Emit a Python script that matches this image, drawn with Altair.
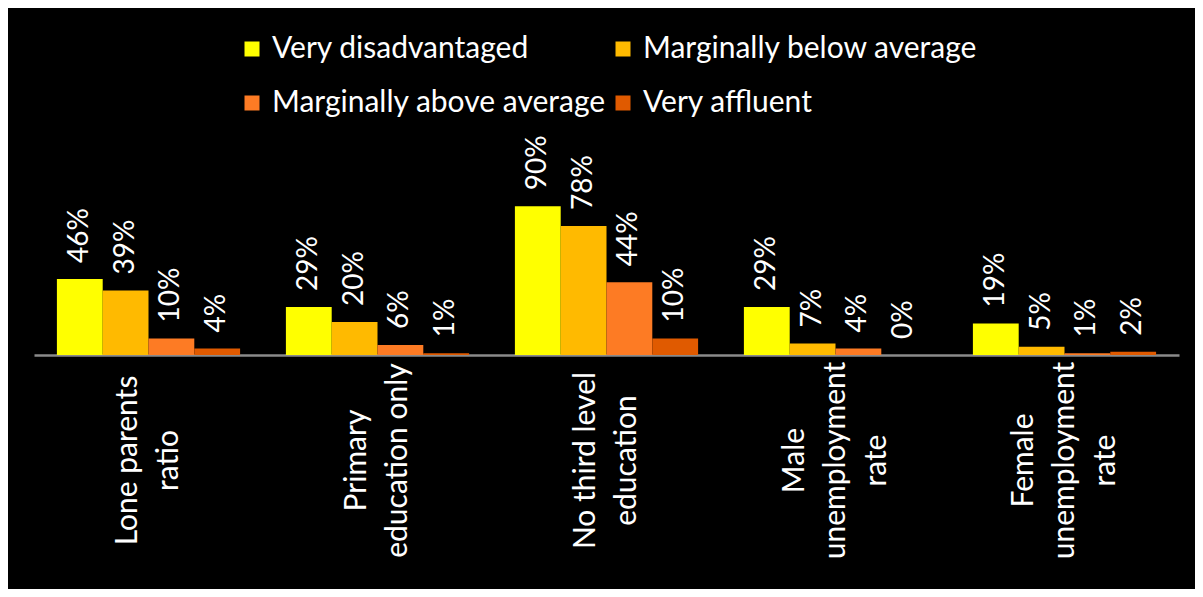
import altair as alt
import pandas as pd

categories = [
    "Lone parents|ratio",
    "Primary|education only",
    "No third level|education",
    "Male|unemployment|rate",
    "Female|unemployment|rate",
]
groups = [
    "Very disadvantaged",
    "Marginally below average",
    "Marginally above average",
    "Very affluent",
]
very_disadvantaged = [46, 29, 90, 29, 19]
marginally_below = [39, 20, 78, 7, 5]
marginally_above = [10, 6, 44, 4, 1]
very_affluent = [4, 1, 10, 0, 2]
colors = ["#FFFF00", "#FFBA00", "#FD7B24", "#E05A00"]

series = [very_disadvantaged, marginally_below, marginally_above, very_affluent]
rows = []
for g, vals in zip(groups, series):
    for c, v in zip(categories, vals):
        rows.append({"category": c, "group": g, "value": v, "label": f"{v}%"})
df = pd.DataFrame(rows)

# legend is filled column by column: reorder so rows read like the reference
legend_order = [groups[0], groups[2], groups[1], groups[3]]
legend_colors = [colors[0], colors[2], colors[1], colors[3]]

x = alt.X(
    "category:N",
    sort=categories,
    scale=alt.Scale(paddingInner=0.2, paddingOuter=0.1),
    axis=alt.Axis(
        title=None,
        labelAngle=-90,
        labelAlign="center",
        labelBaseline="middle",
        labelPadding=105,
        labelOffset={
            "condition": {"test": "indexof(datum.value, 'unemployment') >= 0", "value": -41},
            "value": -20.5,
        },
        labelExpr="split(datum.label, '|')",
        labelLineHeight=41,
        labelFont="Lato",
        labelFontSize=30,
        labelColor="white",
        labelLimit=1000,
        labelOverlap=False,
        ticks=False,
        tickSize=0,
        domainColor="#8a8a8a",
        domainWidth=2.5,
        grid=False,
    ),
)
xo = alt.XOffset("group:N", sort=groups, scale=alt.Scale(paddingInner=0, paddingOuter=0))
y = alt.Y("value:Q", scale=alt.Scale(domain=[0, 130]), axis=None)
color = alt.Color(
    "group:N",
    scale=alt.Scale(domain=legend_order, range=legend_colors),
    legend=alt.Legend(
        title=None,
        orient="none",
        legendX=203,
        legendY=-106,
        columns=2,
        columnPadding=2,
        rowPadding=24,
        symbolType="square",
        symbolSize=225,
        symbolStrokeWidth=0,
        labelFont="Lato",
        labelFontSize=30,
        labelColor="white",
        labelOffset=5,
        labelLimit=1000,
        padding=0,
    ),
)

bars = alt.Chart().mark_bar().encode(x=x, xOffset=xo, y=y, color=color)
text = alt.Chart().mark_text(
    angle=270, align="left", baseline="middle", dx=16,
    font="Lato", fontSize=28, color="white"
).encode(x=x, xOffset=xo, y=y, text="label:N")

chart = alt.layer(bars, text, data=df).properties(
    width=1145,
    height=215,
    autosize=alt.AutoSizeParams(type="none"),
    padding={"left": 26, "top": 132, "right": 16, "bottom": 234},
    background="black",
).configure_view(stroke=None)

chart.save("out.html", embed_options={"renderer": "svg", "actions": False})
